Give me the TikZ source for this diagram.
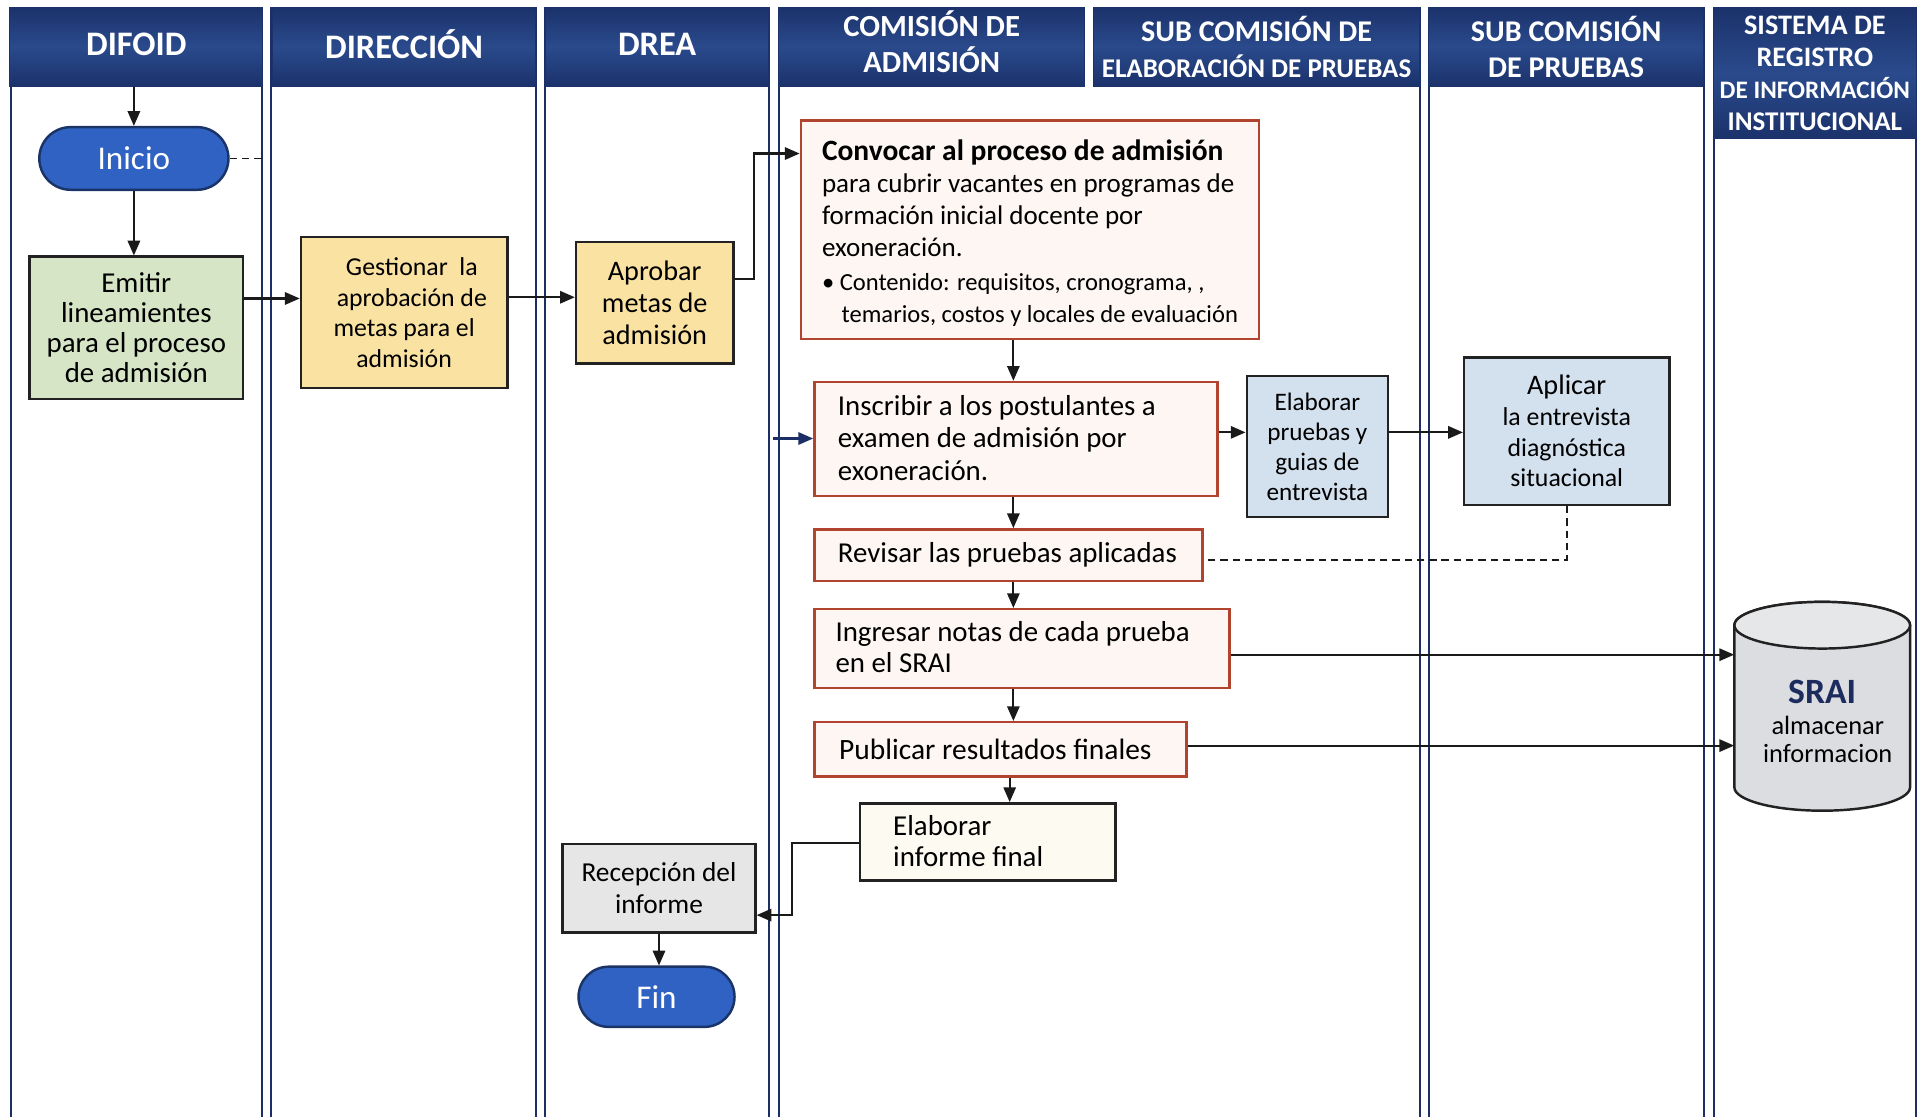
\documentclass[tikz,border=0pt]{standalone}
\usepackage{fontspec}
\setmainfont{Carlito}
\usetikzlibrary{arrows.meta,calc,shapes.misc}
\definecolor{hdrA}{HTML}{1B326B}
\definecolor{hdrB}{HTML}{2A4A8C}
\definecolor{lanec}{HTML}{1C2E66}
\definecolor{termf}{HTML}{2F62C2}
\definecolor{termb}{HTML}{1B3468}
\definecolor{greenf}{HTML}{D5E5C6}
\definecolor{yellowf}{HTML}{FAE3A2}
\definecolor{pinkf}{HTML}{FDF6F3}
\definecolor{redb}{HTML}{B0442E}
\definecolor{bluef}{HTML}{D3E0EE}
\definecolor{creamf}{HTML}{FDFAF1}
\definecolor{grayf}{HTML}{E6E6E6}
\definecolor{cylf}{HTML}{DCDDE0}
\definecolor{cyltop}{HTML}{E6E7E9}
\definecolor{srainavy}{HTML}{1D2C5E}
\definecolor{bordc}{HTML}{222222}
\definecolor{arrc}{HTML}{1A1A1A}
\newcommand{\fs}[2]{\fontsize{#1}{#2}\selectfont}
\tikzset{
  lane/.style={draw=lanec, line width=1.6pt},
  hdr/.style={draw=hdrA, line width=1pt, top color=hdrA, bottom color=hdrA, middle color=hdrB,
    text=white, align=center, inner sep=0pt, font=\bfseries\fs{28}{30}},
  arr/.style={-{Triangle[length=12pt,width=10pt]}, line width=1.7pt, draw=arrc},
  dashline/.style={dashed, dash pattern=on 6pt off 4pt, line width=1.5pt, draw=arrc},
  base/.style={line width=2pt, inner sep=0pt, align=center, font=\fs{20}{25}},
  greenbox/.style={base, draw=bordc, fill=greenf},
  yellowbox/.style={base, draw=bordc, fill=yellowf},
  pinkbox/.style={base, draw=redb, fill=pinkf},
  bluebox/.style={base, draw=bordc, fill=bluef},
  creambox/.style={base, draw=bordc, fill=creamf},
  graybox/.style={base, draw=bordc, fill=grayf},
  term/.style={base, rounded rectangle, draw=termb, fill=termf, text=white, font=\fs{27}{30}},
  txt/.style={inner sep=0pt, align=left, font=\fs{20}{25}, text=black},
}
\begin{document}
\begin{tikzpicture}[x=1pt,y=-1pt]
\useasboundingbox (0,0) rectangle (1568,909);
\fill[white] (0,0) rectangle (1568,909);
% lane lines
\foreach \x in {9,213,221,436,444,626,634,1156,1163,1387,1395,1560}
  \draw[lane] (\x,6) -- (\x,909);
% headers
\node[hdr, minimum width=206, minimum height=64] (h1) at (111,38) {\raisebox{4pt}{DIFOID}};
\node[hdr, minimum width=214, minimum height=64] (h2) at (329,38) {\raisebox{4pt}{DIRECCIÓN}};
\node[hdr, minimum width=182, minimum height=64] (h3) at (535,38) {\raisebox{4pt}{DREA}};
\node[hdr, minimum width=249, minimum height=64, font=\bfseries\fs{25}{28}] (h4) at (758.5,38) {\begin{tabular}{@{}c@{}}COMISIÓN DE\\[0pt]ADMISIÓN\end{tabular}};
\node[hdr, minimum width=266, minimum height=64, font=\bfseries\fs{24.5}{29}] (h5) at (1023,38) {SUB COMISIÓN DE\\{\fs{22}{29}ELABORACIÓN DE PRUEBAS}};
\node[hdr, minimum width=224, minimum height=64, font=\bfseries\fs{24.5}{29}] (h6) at (1275,38) {SUB COMISIÓN\\DE PRUEBAS};
\node[hdr, minimum width=165, minimum height=107, font=\bfseries\fs{23}{26}] (h7) at (1477.5,59.5) {SISTEMA DE\\REGISTRO\\{\fs{20.5}{25}DE INFORMACIÓN}\\{\fs{22}{22}INSTITUCIONAL}};
% nodes
\node[term, minimum width=154, minimum height=51] (inicio) at (109,129) {Inicio};
\node[greenbox, minimum width=174, minimum height=116, font=\fs{23.5}{24.5}] (emitir) at (111,267) {Emitir\\lineamientes\\para el proceso\\de admisión};
\node[yellowbox, minimum width=168, minimum height=123, font=\fs{21}{25}] (gest) at (329,254.5) {\hspace*{0.6em}Gestionar\ \ la\\\hspace*{0.6em}aprobación de\\metas para el\hspace*{0.9em}\\admisión};
\node[yellowbox, minimum width=128, minimum height=99, font=\fs{23}{26}] (aprob) at (533,246.5) {Aprobar\\metas de\\admisión};
\node[pinkbox, minimum width=373, minimum height=178] (conv) at (838.5,187) {};
\node[txt, anchor=west, font=\fs{22}{26}] at ($(conv.west)+(18,3)$) {\textbf{\fs{24}{26}Convocar al proceso de admisión}\\para cubrir vacantes en programas de\\formación inicial docente por\\exoneración.\\[2pt]{\fs{20}{26}\textbullet\ Contenido: requisitos, cronograma, ,}\\{\fs{20}{26}\hspace*{0.8em}temarios, costos y locales de evaluación}};
\node[pinkbox, minimum width=328, minimum height=93] (insc) at (827,357.5) {};
\node[txt, anchor=west, font=\fs{23.5}{26.5}] at ($(insc.west)+(20,-1)$) {Inscribir a los postulantes a\\examen de admisión por\\exoneración.};
\node[bluebox, minimum width=115, minimum height=115, font=\fs{20.5}{24.5}] (elab) at (1072.5,363.5) {Elaborar\\pruebas y\\guias de\\entrevista};
\node[bluebox, minimum width=167, minimum height=120, font=\fs{21}{25}] (aplic) at (1275.5,351) {{\fs{23}{25}Aplicar}\\la entrevista\\diagnóstica\\situacional};
\node[pinkbox, minimum width=316, minimum height=42] (revis) at (821,452) {};
\node[txt, anchor=west, font=\fs{23.5}{26}] at ($(revis.west)+(20,0)$) {Revisar las pruebas aplicadas};
\node[pinkbox, minimum width=338, minimum height=64] (ingr) at (832,528) {};
\node[txt, anchor=west, font=\fs{23.5}{25}] at ($(ingr.west)+(18,-1)$) {Ingresar notas de cada prueba\\en el SRAI};
\node[pinkbox, minimum width=303, minimum height=44] (publ) at (814.5,610) {};
\node[txt, anchor=west, font=\fs{24}{26}] at ($(publ.west)+(21,0)$) {Publicar resultados finales};
\node[creambox, minimum width=208, minimum height=63] (inform) at (804,685.5) {};
\node[txt, anchor=west, font=\fs{23.5}{25}] at ($(inform.west)+(28,-1)$) {Elaborar\\informe final};
\node[graybox, minimum width=157, minimum height=72, font=\fs{22.3}{26}] (recep) at (536.5,723) {Recepción del\\informe};
\node[term, minimum width=127, minimum height=49] (fin) at (534.5,811.5) {Fin};
% SRAI cylinder
\node[minimum width=143, minimum height=170, inner sep=0pt] (srai) at (1483.5,575) {};
\draw[line width=2pt, draw=bordc, fill=cylf] (1412,509) -- (1412,641)
   arc[start angle=180, end angle=0, x radius=71.5, y radius=19] -- (1555,509)
   arc[start angle=0, end angle=-180, x radius=71.5, y radius=19] -- cycle;
\draw[line width=2pt, draw=bordc, fill=cyltop] (1483.5,509) ellipse[x radius=71.5, y radius=19];
\node[inner sep=0pt, text=srainavy, font=\bfseries\fs{29}{30}] at (1483.5,563) {SRAI};
\node[inner sep=0pt, align=center, font=\fs{21.5}{23}] at (1488,602) {almacenar\\informacion};
% helper coordinates
\coordinate (y243) at (0,243);
\coordinate (y242) at (0,242);
\coordinate (y227) at (0,227);
\coordinate (y125) at (0,125);
\coordinate (y352) at (0,352);
\coordinate (y456) at (0,456);
\coordinate (y533) at (0,533);
\coordinate (y607) at (0,607);
\coordinate (y686) at (0,686);
\coordinate (y745) at (0,745);
\coordinate (x825) at (825,0);
\coordinate (x822) at (822,0);
\coordinate (dl1) at (213,129);
\coordinate (lanein) at (629,357);
\coordinate (bend1) at (614,227);
\coordinate (bend2) at (645,686);
% connectors
\draw[arr] (inicio.north |- h1.south) -- (inicio.north);
\draw[dashline] (inicio.east) -- (dl1);
\draw[arr] (inicio.south) -- (inicio.south |- emitir.north);
\draw[arr] (emitir.east |- y243) -- (gest.west |- y243);
\draw[arr] (gest.east |- y242) -- (aprob.west |- y242);
\draw[arr] (aprob.east |- y227) -- (bend1) |- (conv.west |- y125);
\draw[arr] (conv.south -| x825) -- (insc.north -| x825);
\draw[arr, draw=lanec] (lanein) -- (insc.west |- lanein);
\draw[arr] (insc.east |- y352) -- (elab.west |- y352);
\draw[arr] (elab.east |- y352) -- (aplic.west |- y352);
\draw[dashline] (aplic.south) |- (revis.east |- y456);
\draw[arr] (insc.south -| x825) -- (revis.north -| x825);
\draw[arr] (revis.south -| x825) -- (ingr.north -| x825);
\draw[arr] (ingr.east |- y533) -- (srai.west |- y533);
\draw[arr] (ingr.south -| x825) -- (publ.north -| x825);
\draw[arr] (publ.east |- y607) -- (srai.west |- y607);
\draw[arr] (publ.south -| x822) -- (inform.north -| x822);
\draw[arr] (inform.west |- y686) -- (bend2) |- (recep.east |- y745);
\draw[arr] (recep.south) -- (recep.south |- fin.north);
\end{tikzpicture}
\end{document}
